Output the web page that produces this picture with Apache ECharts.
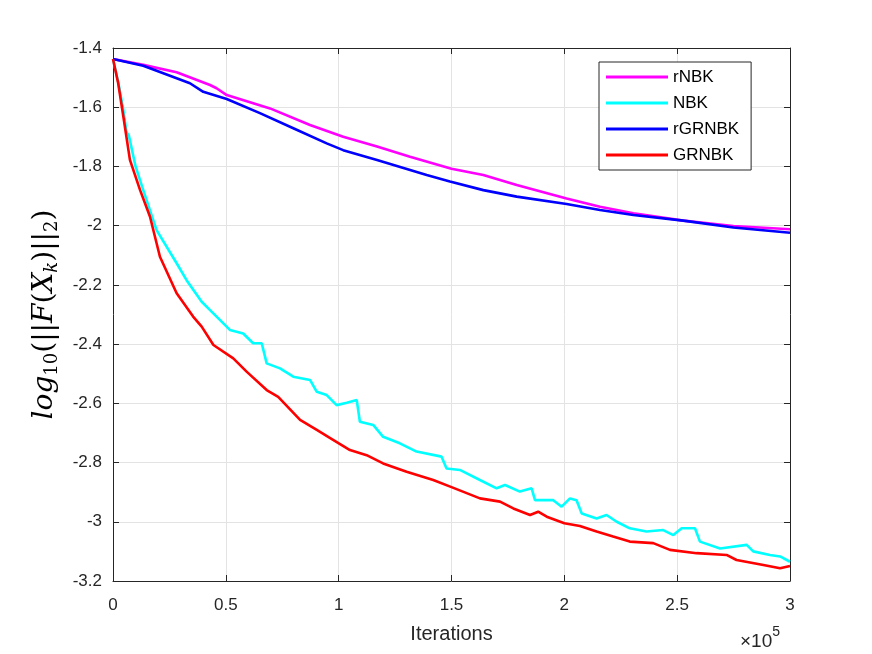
<!DOCTYPE html>
<html>
<head>
<meta charset="utf-8">
<script src="https://cdn.jsdelivr.net/npm/echarts@6/dist/echarts.min.js"></script>
<style>
  html, body { margin: 0; padding: 0; background: #fff; }
  #main { width: 872px; height: 654px; }
</style>
</head>
<body>
<div id="main"></div>
<script>
// iteration counts and log10 residuals
var rnbkIter = [0, 13400, 28200, 43000, 45900, 50400, 69600, 87300, 102000, 117000, 131600, 150000, 164100, 178900, 201000, 215800, 230600, 252700, 274900, 300000];
var rnbkVal = [-1.437, -1.457, -1.482, -1.525, -1.536, -1.559, -1.604, -1.66, -1.70, -1.733, -1.767, -1.808, -1.829, -1.863, -1.908, -1.936, -1.958, -1.983, -2.001, -2.012];

var nbkIter = [0, 2300, 4600, 6000, 7000, 10000, 13400, 19300, 28200, 32600, 39300, 43000, 51800, 57700, 62100, 65900, 68100, 74000, 79900, 87300, 90300, 94700, 99100, 103600, 108000, 109400, 115300, 119700, 127100, 134500, 145600, 147800, 153700, 162600, 170000, 173700, 180300, 185500, 187000, 195100, 198800, 202500, 205400, 207700, 214300, 218700, 223200, 229000, 236400, 243800, 248300, 252000, 257900, 260100, 269000, 280800, 283700, 291100, 295600, 300000];
var nbkVal = [-1.437, -1.515, -1.61, -1.685, -1.695, -1.80, -1.88, -2.015, -2.127, -2.184, -2.257, -2.285, -2.352, -2.364, -2.397, -2.397, -2.465, -2.482, -2.51, -2.521, -2.561, -2.572, -2.606, -2.598, -2.589, -2.662, -2.673, -2.713, -2.735, -2.763, -2.78, -2.82, -2.825, -2.859, -2.887, -2.876, -2.898, -2.887, -2.927, -2.927, -2.949, -2.921, -2.927, -2.972, -2.989, -2.977, -3.0, -3.022, -3.033, -3.028, -3.045, -3.022, -3.022, -3.067, -3.09, -3.078, -3.1, -3.112, -3.117, -3.135];

var rgrnbkIter = [0, 13400, 28200, 34100, 40000, 50400, 65100, 79900, 94700, 102000, 117000, 139000, 149300, 164100, 178900, 201000, 215800, 230600, 252700, 274900, 300000];
var rgrnbkVal = [-1.437, -1.46, -1.502, -1.519, -1.548, -1.572, -1.62, -1.671, -1.722, -1.745, -1.778, -1.829, -1.851, -1.88, -1.902, -1.927, -1.947, -1.964, -1.983, -2.006, -2.024];

var grnbkIter = [0, 2300, 4600, 7500, 12000, 16400, 20800, 28200, 35500, 39300, 44500, 53300, 59200, 68100, 73200, 82900, 90300, 97700, 105000, 112400, 119700, 130100, 141900, 150000, 162600, 171500, 177400, 184800, 188400, 192200, 200000, 206900, 214300, 221600, 229000, 239400, 246800, 258600, 271900, 276300, 288200, 295600, 300000];
var grnbkVal = [-1.437, -1.519, -1.632, -1.778, -1.88, -1.97, -2.105, -2.228, -2.307, -2.341, -2.403, -2.448, -2.493, -2.555, -2.578, -2.656, -2.69, -2.724, -2.758, -2.775, -2.803, -2.831, -2.859, -2.883, -2.921, -2.932, -2.955, -2.977, -2.966, -2.983, -3.005, -3.014, -3.033, -3.05, -3.067, -3.072, -3.095, -3.106, -3.112, -3.129, -3.146, -3.157, -3.149];

var seriesNames = ['rNBK', 'NBK', 'rGRNBK', 'GRNBK'];
var seriesColors = ['#ff00ff', '#00ffff', '#0000ff', '#ff0000'];

function pairs(xs, ys) {
    return xs.map(function (x, i) { return [x, ys[i]]; });
}

var axisColor = '#262626';
var gridColor = '#e3e3e3';
var tickFont = 'Liberation Sans';

var allIter = [rnbkIter, nbkIter, rgrnbkIter, grnbkIter];
var allVal = [rnbkVal, nbkVal, rgrnbkVal, grnbkVal];

var myChart = echarts.init(document.getElementById('main'));
myChart.setOption({
    backgroundColor: '#fff',
    animation: false,
    grid: { left: 113, top: 48, right: 82, bottom: 73 },
    legend: {
        data: seriesNames,
        orient: 'vertical',
        left: 599,
        top: 62,
        backgroundColor: '#fff',
        borderColor: axisColor,
        borderWidth: 1,
        padding: [6, 12, 6, 7],
        itemGap: 8,
        itemWidth: 62,
        itemHeight: 3,
        icon: 'rect',
        textStyle: { fontFamily: tickFont, fontSize: 17, color: '#000', lineHeight: 18 }
    },
    xAxis: [{
        type: 'value',
        min: 0,
        max: 300000,
        interval: 50000,
        name: 'Iterations',
        nameLocation: 'middle',
        nameGap: 43,
        nameTextStyle: { fontFamily: tickFont, fontSize: 20, color: axisColor },
        axisLine: { show: true, onZero: false, lineStyle: { color: axisColor, width: 1 } },
        axisTick: { show: true, inside: true, length: 6, lineStyle: { color: axisColor } },
        axisLabel: {
            margin: 16,
            fontFamily: tickFont,
            fontSize: 17,
            color: axisColor,
            formatter: function (v) { return String(v / 100000); }
        },
        splitLine: { show: true, lineStyle: { color: gridColor, width: 1 } }
    }, {
        type: 'value',
        position: 'top',
        min: 0,
        max: 300000,
        interval: 50000,
        axisLine: { show: true, onZero: false, lineStyle: { color: axisColor, width: 1 } },
        axisTick: { show: true, inside: true, length: 6, lineStyle: { color: axisColor } },
        axisLabel: { show: false },
        splitLine: { show: false }
    }],
    yAxis: [{
        type: 'value',
        min: -3.2,
        max: -1.4,
        interval: 0.2,
        name: '{i|log}{s|10}{n|(||}{i|F}{n|(}{i|X}{si|k}{n|)||}{s|2}{n|)}',
        nameLocation: 'middle',
        nameRotate: 90,
        nameGap: 51,
        nameTextStyle: {
            rich: {
                i: { fontFamily: 'DejaVu Serif', fontStyle: 'italic', fontSize: 28, color: '#000', lineHeight: 34 },
                n: { fontFamily: 'DejaVu Serif', fontSize: 28, color: '#000', lineHeight: 34 },
                s: { fontFamily: 'DejaVu Serif', fontSize: 18, color: '#000', verticalAlign: 'bottom', lineHeight: 34 },
                si: { fontFamily: 'DejaVu Serif', fontStyle: 'italic', fontSize: 18, color: '#000', verticalAlign: 'bottom', lineHeight: 34 }
            }
        },
        axisLine: { show: true, onZero: false, lineStyle: { color: axisColor, width: 1 } },
        axisTick: { show: true, inside: true, length: 6, lineStyle: { color: axisColor } },
        axisLabel: {
            margin: 11,
            fontFamily: tickFont,
            fontSize: 17,
            color: axisColor,
            formatter: function (v) { return String(Math.round(v * 10) / 10); }
        },
        splitLine: { show: true, lineStyle: { color: gridColor, width: 1 } }
    }, {
        type: 'value',
        position: 'right',
        min: -3.2,
        max: -1.4,
        interval: 0.2,
        axisLine: { show: true, onZero: false, lineStyle: { color: axisColor, width: 1 } },
        axisTick: { show: true, inside: true, length: 6, lineStyle: { color: axisColor } },
        axisLabel: { show: false },
        splitLine: { show: false }
    }],
    graphic: [{
        type: 'text',
        left: 740,
        top: 625,
        style: {
            text: '{a|×10}{b|5}',
            rich: {
                a: { fontFamily: tickFont, fontSize: 19, fill: axisColor, lineHeight: 26, verticalAlign: 'bottom' },
                b: { fontFamily: tickFont, fontSize: 14, fill: axisColor, lineHeight: 26, verticalAlign: 'top' }
            }
        }
    }],
    series: seriesNames.map(function (name, k) {
        return {
            name: name,
            type: 'line',
            xAxisIndex: 0,
            yAxisIndex: 0,
            showSymbol: false,
            symbol: 'none',
            data: pairs(allIter[k], allVal[k]),
            lineStyle: { color: seriesColors[k], width: 2.6 },
            itemStyle: { color: seriesColors[k] }
        };
    })
});
</script>
</body>
</html>
